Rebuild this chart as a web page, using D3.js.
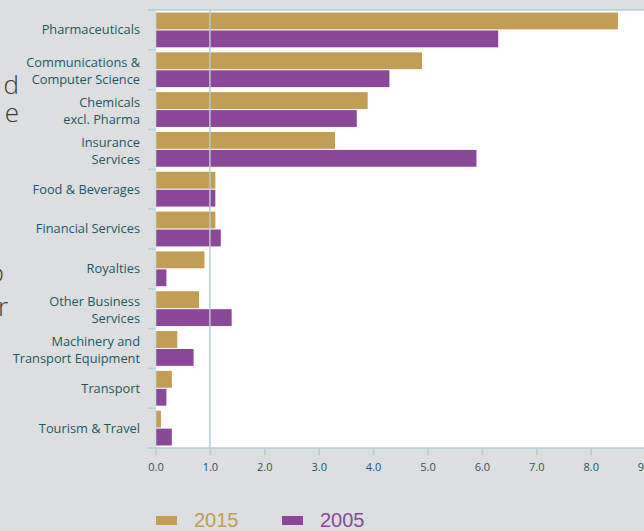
<!DOCTYPE html>
<html>
<head>
<meta charset="utf-8">
<script src="https://cdn.jsdelivr.net/npm/d3@7"></script>
<style>
  body { margin: 0; background: #dcdee0; overflow: hidden; }
  svg { display: block; }
</style>
</head>
<body>
<svg width="644" height="531"></svg>
<script>
const categories = [
  ["Pharmaceuticals"],
  ["Communications &", "Computer Science"],
  ["Chemicals", "excl. Pharma"],
  ["Insurance", "Services"],
  ["Food & Beverages"],
  ["Financial Services"],
  ["Royalties"],
  ["Other Business", "Services"],
  ["Machinery and", "Transport Equipment"],
  ["Transport"],
  ["Tourism & Travel"]
];
const values2015 = [8.5, 4.9, 3.9, 3.3, 1.1, 1.1, 0.9, 0.8, 0.4, 0.3, 0.1];
const values2005 = [6.3, 4.3, 3.7, 5.9, 1.1, 1.2, 0.2, 1.4, 0.7, 0.2, 0.3];
const xTicks = [0, 1, 2, 3, 4, 5, 6, 7, 8, 9];
const seriesNames = ["2015", "2005"];
const colors = ["#c29d55", "#8b4899"];

const svg = d3.select('svg');
const margin = { top: 10, left: 155.5, bottom: 448 };
const lineColor = "#b3cdd6";
const labelColor = "#1d5862";

const x = d3.scaleLinear().domain([0, 9]).range([margin.left, margin.left + 9 * 54.4]);
const y = d3.scaleBand().domain(d3.range(categories.length)).range([margin.top, margin.bottom]);

// clipped text fragments from the page beside the chart
const fragments = [["d", 94], ["e", 122], ["o", 282], ["r", 316]];
svg.selectAll(".frag").data(fragments).enter().append("text")
  .attr("class", "frag")
  .attr("x", d => d[0] == "o" ? 4 : (d[0] == "r" ? 8 : 19))
  .attr("y", d => d[1])
  .attr("text-anchor", "end")
  .style("font-family", "Open Sans, sans-serif")
  .style("font-weight", "300")
  .style("font-size", "26px")
  .style("fill", "#3a3a3a")
  .text(d => d[0]);

// plot area
svg.append("rect")
  .attr("x", margin.left)
  .attr("y", margin.top)
  .attr("width", 644 - margin.left)
  .attr("height", margin.bottom - margin.top)
  .attr("fill", "#ffffff");

// top border
svg.append("line")
  .attr("x1", 148).attr("x2", 644)
  .attr("y1", margin.top).attr("y2", margin.top)
  .attr("stroke", lineColor).attr("stroke-width", 1.5);

// band ticks on the left
svg.selectAll(".bandTick").data(d3.range(categories.length)).enter().append("line")
  .attr("class", "bandTick")
  .attr("x1", 148).attr("x2", margin.left)
  .attr("y1", d => y(d)).attr("y2", d => y(d))
  .attr("stroke", lineColor).attr("stroke-width", 1.5);

// bars
const inner = d3.scaleBand().domain([0, 1]).range([0, y.bandwidth()]).paddingInner(0.06).paddingOuter(0.14);
const groups = svg.selectAll(".cat").data(categories).enter().append("g")
  .attr("class", "cat")
  .attr("transform", (d, i) => `translate(0,${y(i)})`);

[values2015, values2005].forEach((vals, s) => {
  groups.append("rect")
    .attr("x", x(0))
    .attr("y", inner(s))
    .attr("width", (d, i) => x(vals[i]) - x(0))
    .attr("height", inner.bandwidth())
    .attr("fill", colors[s]);
});

// gridline at 1.0
svg.append("line")
  .attr("x1", x(1)).attr("x2", x(1))
  .attr("y1", margin.top).attr("y2", margin.bottom)
  .attr("stroke", lineColor).attr("stroke-width", 1.5);

// left axis line
svg.append("line")
  .attr("x1", margin.left).attr("x2", margin.left)
  .attr("y1", margin.top).attr("y2", margin.bottom)
  .attr("stroke", "#cfdde2").attr("stroke-width", 1.5);

// category labels
groups.each(function(d, i) {
  const g = d3.select(this);
  const lh = 17;
  const cy = y.bandwidth() / 2 + 4.5 - (d.length - 1) * lh / 2 + (d.length - 1) * 1.5;
  d.forEach((line, k) => {
    g.append("text")
      .attr("x", 140)
      .attr("y", cy + k * lh)
      .attr("text-anchor", "end")
      .style("font-family", "Open Sans, sans-serif")
      .style("font-size", "12.8px")
      .style("fill", labelColor)
      .text(line);
  });
});

// x axis
const xAxis = d3.axisBottom(x).tickValues(xTicks).tickFormat(d3.format(".1f")).tickSize(7).tickPadding(8);
const ax = svg.append("g")
  .attr("transform", `translate(0,${margin.bottom})`)
  .call(xAxis);
ax.select(".domain").remove();
ax.append("line")
  .attr("x1", 147).attr("x2", 644)
  .attr("stroke", lineColor).attr("stroke-width", 1.5);
ax.selectAll(".tick line").attr("stroke", lineColor).attr("stroke-width", 1.5);
ax.selectAll(".tick text")
  .style("font-family", "Open Sans, sans-serif")
  .style("font-size", "11px")
  .style("fill", labelColor);

// legend
const legend = svg.selectAll(".legend").data(seriesNames).enter().append("g")
  .attr("class", "legend")
  .attr("transform", (d, i) => `translate(${156 + i * 126},516)`);
legend.append("rect")
  .attr("width", 21).attr("height", 9)
  .attr("fill", (d, i) => colors[i]);
legend.append("text")
  .attr("x", 38).attr("y", 11)
  .style("font-family", "Liberation Sans, Arial, sans-serif")
  .style("font-size", "20px")
  .style("fill", (d, i) => colors[i])
  .text(d => d);
</script>
</body>
</html>
